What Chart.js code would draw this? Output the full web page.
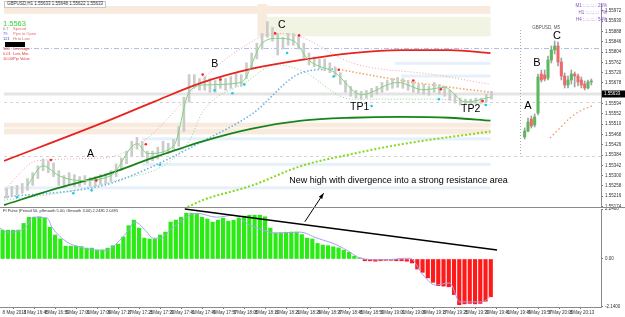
<!DOCTYPE html>
<html>
<head>
<meta charset="utf-8">
<script src="https://cdn.jsdelivr.net/npm/chart.js@4.4.0/dist/chart.umd.min.js"></script>
<style>
  body { margin: 0; background: #fff; }
  #wrap { position: relative; width: 625px; height: 317px; overflow: hidden; font-family: "Liberation Sans", Arial, sans-serif; }
  canvas { position: absolute; }
  .t { position: absolute; white-space: nowrap; line-height: 1; }
</style>
</head>
<body>
<div id="wrap">
  <canvas id="main" width="625" height="317" style="left:0;top:0"></canvas>
  <canvas id="inset" width="80" height="207" style="left:518px;top:0"></canvas>
  <canvas id="osc" width="625" height="110" style="left:0;top:207px"></canvas>
  <div id="texts"></div>
</div>
<script>
// ---- data: main H1 bars (price) ----
const candleHigh = [1.55248,1.55256,1.55260,1.55268,1.55288,1.55312,1.55340,1.55368,1.55360,1.55352,
  1.55320,1.55300,1.55312,1.55304,1.55296,1.55300,1.55292,1.55296,1.55304,1.55308,
  1.55320,1.55348,1.55372,1.55400,1.55440,1.55456,1.55440,1.55400,1.55400,1.55416,
  1.55440,1.55432,1.55448,1.55500,1.55620,1.55712,1.55712,1.55696,1.55704,1.55696,
  1.55688,1.55704,1.55696,1.55704,1.55720,1.55712,1.55760,1.55800,1.55840,1.55880,
  1.55928,1.55904,1.55880,1.55864,1.55880,1.55880,1.55872,1.55840,1.55800,1.55784,
  1.55776,1.55776,1.55760,1.55744,1.55720,1.55688,1.55664,1.55648,1.55644,1.55648,
  1.55656,1.55664,1.55680,1.55688,1.55696,1.55700,1.55696,1.55688,1.55680,1.55672,
  1.55672,1.55664,1.55680,1.55672,1.55664,1.55648,1.55632,1.55616,1.55612,1.55612,
  1.55616,1.55616,1.55632,1.55644];
const candleLow = [1.55208,1.55216,1.55220,1.55228,1.55240,1.55260,1.55288,1.55320,1.55312,1.55296,
  1.55260,1.55252,1.55264,1.55256,1.55256,1.55264,1.55256,1.55256,1.55264,1.55268,
  1.55276,1.55296,1.55320,1.55348,1.55380,1.55408,1.55376,1.55352,1.55360,1.55368,
  1.55388,1.55392,1.55408,1.55420,1.55480,1.55600,1.55660,1.55648,1.55648,1.55640,
  1.55640,1.55656,1.55648,1.55656,1.55664,1.55664,1.55696,1.55736,1.55776,1.55816,
  1.55864,1.55848,1.55792,1.55816,1.55832,1.55832,1.55816,1.55776,1.55752,1.55744,
  1.55736,1.55728,1.55720,1.55704,1.55672,1.55640,1.55624,1.55616,1.55612,1.55616,
  1.55620,1.55632,1.55640,1.55648,1.55656,1.55660,1.55656,1.55648,1.55640,1.55636,
  1.55632,1.55628,1.55640,1.55632,1.55624,1.55608,1.55596,1.55588,1.55592,1.55592,
  1.55596,1.55596,1.55600,1.55612];

// moving averages / envelopes as [barIndex, price]
const redMA = [[-0.5,1.5536],[18.5,1.55516],[28.1,1.556],[37.6,1.5568],[47.1,1.55736],[56.6,1.55772],[66.2,1.558],[75.7,1.55812],[85,1.55812],[92.8,1.558]];
const greenMA = [[-0.5,1.5518],[9,1.55244],[18.5,1.553],[28,1.55372],[37.6,1.5544],[47.1,1.55492],[56.6,1.55524],[66,1.55536],[75.7,1.5554],[85,1.55536],[92.8,1.55524]];
const limeMA = [[34.7,1.55172],[37.6,1.552],[47.1,1.5526],[56.6,1.5534],[66.2,1.55388],[75.7,1.55428],[92.8,1.5548]];
const blueDots = [[-0.5,1.55212],[18.5,1.5526],[26.2,1.5532],[37.6,1.5544],[47.1,1.55552],[56.6,1.5572],[63,1.55736]];
const orangeDots = [[63,1.55736],[75.7,1.55688],[85.2,1.5566],[92.8,1.5564]];
const upperEnv = [[-0.5,1.5524],[5.8,1.5536],[18.5,1.55372],[26.2,1.5544],[33.8,1.556],[37.6,1.55692],[45,1.5582],[51.5,1.5588],[56.1,1.55868],[66.2,1.5576],[82,1.55712],[92.8,1.55672]];
const lowerEnv = [[-0.5,1.552],[11,1.55232],[22.4,1.55288],[30,1.5534],[35,1.5544],[37.6,1.5556],[45.8,1.5568],[51.8,1.55752],[56.6,1.55728],[66.2,1.55612],[82,1.55612],[92.8,1.55588]];
const fastLine = [[4,1.5526],[7,1.5534],[10,1.553],[14,1.5528],[20,1.553],[25,1.5543],[27,1.5539],[32,1.5542],[35,1.5564],[38,1.5567],[45,1.5568],[49,1.5584],[52,1.5586],[55,1.5585],[58,1.5577],[63,1.5572],[68,1.5563],[75,1.5568],[80,1.5565],[84,1.5566],[88,1.556],[92.8,1.5562]];
const fractalHighs = [[8.5,1.55364],[17.2,1.5528],[26.7,1.55428],[37.6,1.55712],[41,1.55692],[51.5,1.5588],[56.1,1.55872],[63.7,1.55732],[78,1.55688],[83.3,1.55652],[91.3,1.55604]];
const fractalLows = [[2,1.55212],[12.8,1.55228],[16.3,1.5524],[29.4,1.55344],[39.9,1.55648],[43.3,1.55636],[45.6,1.55672],[53.8,1.558],[62.7,1.55704],[70,1.55584],[82.9,1.55612],[91.9,1.55588]];

// zones: [top, bottom, fromBar, toBar]
const beigeZones = [[1.55992,1.5596,-0.5,92.8],[1.5600,1.55868,48.1,50],[1.55516,1.55496,-0.5,92.8],[1.55492,1.55468,-0.5,92.8]];
const greenZones = [[1.55948,1.55868,50,92.8]];
const blueZones = [[1.55764,1.55752,74.4,92.8],[1.55712,1.557,75.7,92.8],[1.55456,1.55444,26,92.8],[1.55352,1.5534,26,92.8],[1.55256,1.55244,-0.5,92.8]];
const blueLevel = 1.5582;
const dashedLevels = [1.556, 1.5538];
const currentPrice = 1.55633;
const priceTicks = [1.55972,1.55930,1.55888,1.55846,1.55804,1.55762,1.55720,1.55678,1.55594,1.55552,
  1.55510,1.55468,1.55426,1.55384,1.55342,1.55300,1.55258,1.55216,1.55174];

// pattern labels: [text, bar, price]
const patternLabels = [['A',16.1,1.55388],['B',39.9,1.55756],['C',52.8,1.55912],['TP1',67.7,1.5558],['TP2',89,1.55572]];
const noteText = 'New high with divergence into a strong resistance area';
const notePos = [54.2, 1.5528];
const arrowFrom = [57.2, 1.55112];
const arrowTo = [60.8, 1.55228];

// ---- inset M5 chart ----
const insetOpen  = [1.55452,1.55476,1.55524,1.555,1.55548,1.55704,1.557,1.55688,1.5576,1.558,1.55816,1.55752,1.55696,1.5566,1.5568,1.55704,1.55696,1.5568,1.55664,1.55648,1.55672];
const insetClose = [1.55476,1.55512,1.55496,1.55532,1.55692,1.5568,1.55684,1.5576,1.558,1.55816,1.55752,1.55696,1.5566,1.5568,1.55704,1.55696,1.55672,1.5566,1.55648,1.55672,1.55676];
const insetHigh  = [1.55488,1.55528,1.55536,1.55544,1.55704,1.5572,1.5572,1.55776,1.55816,1.55836,1.55832,1.55768,1.55708,1.55696,1.5572,1.55712,1.55704,1.55692,1.55676,1.5568,1.55684];
const insetLow   = [1.55444,1.55472,1.55488,1.55492,1.5554,1.55672,1.55676,1.5568,1.55748,1.55784,1.55736,1.5568,1.55648,1.55648,1.55664,1.55652,1.55656,1.55648,1.5564,1.55644,1.5566];
const insetCurve = [[7.6,1.55448],[10.6,1.55488],[13.6,1.55528],[16.6,1.55556],[20.2,1.55576]];
const insetLabels = [['A',1,1.55576],['B',3.7,1.55748],['C',9.7,1.55856]];

// ---- oscillator (FI Pulse) ----
const pulse = [1.3,1.3,1.3,1.3,1.6,1.88,1.88,1.9,1.84,1.43,
  1.08,0.9,0.58,0.58,0.58,0.56,0.49,0.49,0.4,0.4,
  0.49,0.6,0.67,0.99,1.5,1.75,1.39,0.94,0.9,0.9,
  1.08,1.21,1.66,1.75,1.88,2.06,2.06,2.02,1.88,1.8,
  1.66,1.75,1.84,1.7,1.75,1.84,1.93,1.97,1.97,1.97,
  1.9,1.39,1.17,1.17,1.2,1.21,1.21,1.1,0.94,0.9,
  0.7,0.63,0.6,0.55,0.5,0.4,0.3,0.13,0.05,-0.08,
  -0.08,-0.1,-0.08,-0.06,-0.06,-0.08,-0.08,-0.1,-0.18,-0.45,
  -0.6,-0.85,-1.05,-1.2,-1.22,-1.25,-1.6,-2.06,-2.02,-2.0,
  -2.02,-2.0,-1.9,-1.7];
const pulseSignal = [[-0.5,1.39],[0.8,1.21],[4.3,1.39],[5.8,1.88],[8.5,1.84],[9.4,1.43],[12.3,0.76],[14.7,0.54],[18,0.4],[19.9,0.4],[21.8,0.72],[23.7,1.21],[25.2,1.66],[27.5,1.21],[28.6,0.94],[30,0.94],[32.5,1.43],[37,2.06],[40.8,1.88],[43.9,1.97],[47.1,1.52],[49.6,1.3],[51.9,1.17],[56.6,1.21],[59.9,0.94],[63.7,0.63],[66.2,0.31],[68.1,0.04],[72.5,-0.04],[77.6,0.04],[80.1,-0.72],[82.4,-1.17],[85.2,-1.08],[87.1,-1.93],[91.5,-1.93],[92.8,-1.7]];
const trendLine = [[34.7,2.25],[94.2,0.41]];
const oscTicks = [2.24, 0, -2.14];
const timeLabels = ['8 May 2013','8 May 16:45','8 May 16:53','8 May 17:01','8 May 17:09','8 May 17:17','8 May 17:25',
  '8 May 17:33','8 May 17:41','8 May 17:49','8 May 17:57','8 May 18:05','8 May 18:13','8 May 18:21','8 May 18:29',
  '8 May 18:37','8 May 18:45','8 May 18:53','8 May 19:01','8 May 19:09','8 May 19:17','8 May 19:25','8 May 19:33',
  '8 May 19:41','8 May 19:49','8 May 19:57','8 May 20:05','8 May 20:13'];

// info panel
const infoRows = [['0.7','#888','Spread','#e46a6a'],['79','#6464e0','Pips to Open','#e46a6a'],['121','#4444c4','Hi to Low','#e46a6a'],
  null,['500','#e03a3a','Leverage','#e03a3a'],['0.01','#e03a3a','Lots Min.','#e03a3a'],['10.00','#e03a3a','Pip Value','#e03a3a']];
const tfRows = [['M1','25%'],['H1','7%'],['H4','54%']];

// ---- helpers ----
Chart.defaults.font.family = '"Liberation Sans", Arial, sans-serif';
Chart.defaults.animation = false;
Chart.defaults.events = [];
Chart.defaults.plugins.legend.display = false;
Chart.defaults.plugins.tooltip.enabled = false;

const X_MIN = -0.5, X_MAX = 114;
const P_MIN = 1.55172, P_MAX = 1.5600;

function pts(list) { return list.map(p => ({ x: p[0], y: p[1] })); }
function line(data, color, width, dash) {
  return { type: 'line', data: pts(data), borderColor: color, borderWidth: width, borderDash: dash || [],
    pointRadius: 0, cubicInterpolationMode: 'monotone', fill: false };
}

// zones, levels, labels, arrow on the main chart
const mainDecor = {
  id: 'mainDecor',
  beforeDatasetsDraw(chart) {
    const { ctx, chartArea: a, scales: { x, y } } = chart;
    ctx.save();
    const band = (z, color) => {
      const x0 = x.getPixelForValue(z[2]), x1 = x.getPixelForValue(z[3]);
      const y0 = y.getPixelForValue(z[0]), y1 = y.getPixelForValue(z[1]);
      ctx.fillStyle = color;
      ctx.fillRect(x0, y0, x1 - x0, y1 - y0);
    };
    beigeZones.forEach(z => band(z, '#f8ebdd'));
    greenZones.forEach(z => band(z, '#f1f3e3'));
    blueZones.forEach(z => band(z, '#e6f0fb'));
    const cy = y.getPixelForValue(currentPrice);
    ctx.fillStyle = '#e4e4e4';
    ctx.fillRect(a.left, cy - 1.5, a.width, 3);
    const hline = (p, color, dash) => {
      const py = Math.round(y.getPixelForValue(p)) + 0.5;
      ctx.strokeStyle = color; ctx.lineWidth = 1; ctx.setLineDash(dash);
      ctx.beginPath(); ctx.moveTo(a.left, py); ctx.lineTo(a.right, py); ctx.stroke();
    };
    hline(blueLevel, '#aec0ea', [5, 2, 1, 2]);
    dashedLevels.forEach(p => hline(p, '#d4d4d4', [3, 3]));
    ctx.restore();
  },
  afterDraw(chart) {
    const { ctx, scales: { x, y } } = chart;
    ctx.save();
    ctx.fillStyle = '#000';
    ctx.textAlign = 'center'; ctx.textBaseline = 'middle';
    ctx.font = '10.5px "Liberation Sans", Arial, sans-serif';
    patternLabels.forEach(l => ctx.fillText(l[0], x.getPixelForValue(l[1]), y.getPixelForValue(l[2])));
    ctx.textAlign = 'left';
    ctx.font = '9px "Liberation Sans", Arial, sans-serif';
    ctx.fillText(noteText, x.getPixelForValue(notePos[0]), y.getPixelForValue(notePos[1]));
    // arrow
    const tx = x.getPixelForValue(arrowFrom[0]), ty = y.getPixelForValue(arrowFrom[1]);
    const hx = x.getPixelForValue(arrowTo[0]), hy = y.getPixelForValue(arrowTo[1]);
    ctx.strokeStyle = '#000'; ctx.lineWidth = 1;
    ctx.beginPath(); ctx.moveTo(tx, ty); ctx.lineTo(hx, hy); ctx.stroke();
    const ang = Math.atan2(hy - ty, hx - tx);
    ctx.beginPath();
    ctx.moveTo(hx, hy);
    ctx.lineTo(hx - 6 * Math.cos(ang - 0.35), hy - 6 * Math.sin(ang - 0.35));
    ctx.lineTo(hx - 6 * Math.cos(ang + 0.35), hy - 6 * Math.sin(ang + 0.35));
    ctx.closePath(); ctx.fill();
    // current price box on the axis
    const cy = y.getPixelForValue(currentPrice);
    ctx.fillStyle = '#000';
    ctx.fillRect(602, cy - 3.5, 23, 7);
    ctx.fillStyle = '#fff';
    ctx.font = '4.5px "Liberation Sans", Arial, sans-serif';
    ctx.fillText(currentPrice.toFixed(5), 604, cy);
    ctx.restore();
  }
};

new Chart(document.getElementById('main'), {
  type: 'bar',
  data: {
    datasets: [
      { type: 'scatter', data: pts(fractalHighs), pointRadius: 1.3, backgroundColor: '#ff2020', borderWidth: 0 },
      { type: 'scatter', data: pts(fractalLows), pointRadius: 1.3, backgroundColor: '#22c4f2', borderWidth: 0 },
      line(fastLine, '#7ad87a', 1),
      line(redMA, '#e8231d', 1.8),
      line(greenMA, '#17831a', 1.8),
      line(limeMA, '#86d81e', 2, [2, 2]),
      { type: 'bar', data: candleLow.map((lo, i) => ({ x: i, y: [lo, candleHigh[i]] })),
        backgroundColor: '#cbcbcb', barThickness: 2, grouped: false },
      line(blueDots, '#72b2e2', 1.6, [1.5, 2]),
      line(orangeDots, '#f2a86a', 1.6, [1.5, 2]),
      line(upperEnv, '#f5a3a3', 1, [1, 2]),
      line(lowerEnv, '#8fd48f', 1, [1, 2])
    ]
  },
  options: {
    responsive: false, devicePixelRatio: 1,
    layout: { padding: { bottom: 110 } },
    scales: {
      x: { type: 'linear', min: X_MIN, max: X_MAX, display: false, offset: false },
      y: {
        position: 'right', min: P_MIN, max: P_MAX,
        afterBuildTicks: s => { s.ticks = priceTicks.map(v => ({ value: v })); },
        afterFit: s => { s.width = 24; s.paddingTop = 0; s.paddingBottom = 0; },
        ticks: { font: { size: 4.5 }, color: '#333', padding: 2, callback: v => v.toFixed(5) },
        grid: { drawOnChartArea: false, tickLength: 2, color: '#777' },
        border: { color: '#8a8a8a' }
      }
    }
  },
  plugins: [mainDecor]
});

// inset M5 chart
const insetDecor = {
  id: 'insetDecor',
  beforeDatasetsDraw(chart) {
    const { ctx, scales: { x, y } } = chart;
    ctx.save();
    const vx = Math.round(x.getPixelForValue(-1.4)) + 0.5;
    ctx.strokeStyle = '#aaa'; ctx.setLineDash([1, 2]);
    ctx.beginPath(); ctx.moveTo(vx, y.getPixelForValue(1.5588)); ctx.lineTo(vx, y.getPixelForValue(1.5538)); ctx.stroke();
    ctx.restore();
  },
  afterDraw(chart) {
    const { ctx, scales: { x, y } } = chart;
    ctx.save();
    ctx.fillStyle = '#000'; ctx.textAlign = 'center'; ctx.textBaseline = 'middle';
    ctx.font = '11px "Liberation Sans", Arial, sans-serif';
    insetLabels.forEach(l => ctx.fillText(l[0], x.getPixelForValue(l[1]), y.getPixelForValue(l[2])));
    ctx.fillStyle = '#555'; ctx.textAlign = 'left';
    ctx.font = '4.5px "Liberation Sans", Arial, sans-serif';
    ctx.fillText('GBPUSD, M5', x.getPixelForValue(2.3), y.getPixelForValue(1.55888));
    ctx.restore();
  }
};

new Chart(document.getElementById('inset'), {
  type: 'bar',
  data: {
    datasets: [
      { type: 'bar', data: insetOpen.map((o, k) => ({ x: k, y: [o, insetClose[k]] })),
        backgroundColor: insetOpen.map((o, k) => insetClose[k] >= o ? '#5cb85c' : '#ee6a6a'),
        barThickness: 2.4, grouped: false },
      { type: 'bar', data: insetLow.map((l, k) => ({ x: k, y: [l, insetHigh[k]] })),
        backgroundColor: '#a0a0a0', barThickness: 1, grouped: false },
      line(insetCurve, '#f2a070', 1.4, [1.5, 2.5])
    ]
  },
  options: {
    responsive: false, devicePixelRatio: 1,
    scales: {
      x: { type: 'linear', min: -2, max: 22, display: false, offset: false },
      y: { min: P_MIN, max: P_MAX, display: false }
    }
  },
  plugins: [insetDecor]
});

// oscillator
const oscDecor = {
  id: 'oscDecor',
  afterDraw(chart) {
    const { ctx } = chart;
    ctx.save();
    ctx.strokeStyle = '#8a8a8a'; ctx.lineWidth = 1;
    ctx.beginPath(); ctx.moveTo(0, 0.5); ctx.lineTo(625, 0.5); ctx.stroke();
    ctx.restore();
  }
};

new Chart(document.getElementById('osc'), {
  type: 'bar',
  data: {
    datasets: [
      Object.assign(line(trendLine, '#000', 1.5), { clip: false }),
      line(pulseSignal, '#a2a2f4', 1),
      { type: 'bar', data: pulse.map((v, i) => ({ x: i, y: v })),
        backgroundColor: pulse.map(v => v >= 0 ? '#2aec14' : '#ff1a1a'), barThickness: 3.5, grouped: false }
    ]
  },
  options: {
    responsive: false, devicePixelRatio: 1,
    layout: { padding: { top: 2 } },
    scales: {
      x: {
        type: 'linear', min: X_MIN, max: X_MAX, offset: false,
        afterBuildTicks: s => { s.ticks = timeLabels.map((t, k) => ({ value: k * 4 })); },
        afterFit: s => { s.height = 10; s.paddingLeft = 0; s.paddingRight = 0; },
        ticks: { autoSkip: false, maxRotation: 0, align: 'start', font: { size: 4.5 }, color: '#333', padding: 1,
          callback: (v, i) => timeLabels[i] },
        grid: { drawOnChartArea: false, tickLength: 2, color: '#777' },
        border: { color: '#8a8a8a' }
      },
      y: {
        position: 'right', min: -2.16, max: 2.25,
        afterBuildTicks: s => { s.ticks = oscTicks.map(v => ({ value: v })); },
        afterFit: s => { s.width = 24; s.paddingTop = 0; s.paddingBottom = 0; },
        ticks: { font: { size: 4.5 }, color: '#333', padding: 2, callback: v => v === 0 ? '0.00' : v.toFixed(4) },
        grid: { drawOnChartArea: false, tickLength: 2, color: '#777' },
        border: { color: '#8a8a8a' }
      }
    }
  },
  plugins: [oscDecor]
});

// ---- text overlays ----
const texts = document.getElementById('texts');
function addText(str, css) {
  const d = document.createElement('div');
  d.className = 't';
  d.textContent = str;
  d.style.cssText += css;
  texts.appendChild(d);
  return d;
}
addText('GBPUSD,H1  1.55633 1.55648 1.55622 1.55633',
  'left:4px;top:1px;font-size:4.5px;color:#333;background:#fff;border:1px solid #c8c8c8;padding:0 2px;');
addText('1.5563', 'left:3px;top:20px;font-size:7.5px;color:#33d433;');
infoRows.forEach((r, i) => {
  const top = 27 + i * 5;
  if (!r) {
    const box = document.createElement('div');
    box.style.cssText = 'position:absolute;left:5px;top:' + (top - 0.5) + 'px;width:20px;height:5px;background:#000;';
    texts.appendChild(box);
    return;
  }
  addText(r[0], 'left:3px;top:' + top + 'px;font-size:4px;color:' + r[1] + ';');
  addText(r[2], 'left:13px;top:' + top + 'px;font-size:4px;color:' + r[3] + ';');
});
tfRows.forEach((r, i) => {
  addText(r[0] + ' :.:.:.:.:.: ' + r[1], 'right:18px;top:' + (4 + i * 7) + 'px;font-size:4.5px;color:#8a52cc;');
});
addText('FI Pulse  (Period 50, pSmooth 5.00, iSmooth 3.00)  2.2485  2.0495',
  'left:3px;top:209px;font-size:4px;color:#333;');
</script>
</body>
</html>
